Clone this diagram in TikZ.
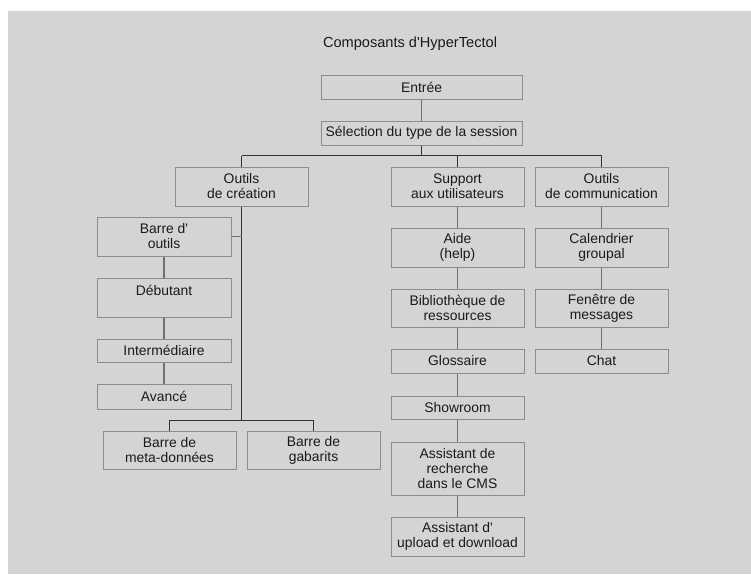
\documentclass[tikz,border=0pt]{standalone}
\usepackage{fontspec}
\setmainfont{Liberation Sans}
\definecolor{panel}{HTML}{D4D4D4}
\definecolor{boxline}{HTML}{8C8C8C}
\definecolor{darkline}{HTML}{333333}
\definecolor{colline}{HTML}{707070}
\definecolor{txt}{HTML}{1A1A1A}
\newcommand{\apos}{\textquotesingle}
\begin{document}
\begin{tikzpicture}[x=1pt,y=1pt,
  box/.style={draw=boxline, line width=1pt, inner sep=0pt, align=center,
    minimum width=133pt, text=txt, font=\fontsize{13.9}{15}\selectfont},
  mainline/.style={draw=darkline, line width=1pt},
  colconn/.style={draw=colline, line width=1.5pt}]
\useasboundingbox (0,0) rectangle (751,-574);
\fill[white] (0,0) rectangle (751,-574);
\fill[panel] (8,-11) rectangle (751,-574);

\node[text=txt, font=\fontsize{14.6}{16}\selectfont] (title) at (410,-44) {Composants d\apos HyperTectol};

\node[box, minimum width=201pt, minimum height=24pt] (entree) at (421.5,-87) {Entrée};
\node[box, minimum width=201pt, minimum height=24pt] (selection) at (421.5,-133) {Sélection du type de la session};

\node[box, minimum height=39pt] (creation) at (241.5,-186.5) {Outils\\de création};
\node[box, minimum height=39pt] (support) at (457.5,-186.5) {Support\\aux utilisateurs};
\node[box, minimum height=39pt] (comm) at (601.5,-186.5) {Outils\\de communication};

\node[box, minimum width=134pt, minimum height=39pt] (outils) at (164,-236.5) {Barre d\apos\\outils};
\node[box, minimum width=134pt, minimum height=39pt] (debutant) at (164,-297.5) {Débutant\\\mbox{}};
\node[box, minimum width=134pt, minimum height=23pt] (inter) at (164,-350.5) {Intermédiaire};
\node[box, minimum width=134pt, minimum height=25pt] (avance) at (164,-396.5) {Avancé};

\node[box, minimum height=38pt] (meta) at (169.5,-450) {Barre de\\meta-données};
\node[box, minimum height=38pt] (gabarits) at (313.5,-450) {Barre de\\gabarits};

\node[box, minimum height=39pt] (aide) at (457.5,-247.5) {Aide\\(help)};
\node[box, minimum height=38pt] (biblio) at (457.5,-308) {Bibliothèque de\\ressources};
\node[box, minimum height=24pt] (glossaire) at (457.5,-361) {Glossaire};
\node[box, minimum height=23pt] (showroom) at (457.5,-407.5) {Showroom};
\node[box, minimum height=53pt] (recherche) at (457.5,-468.5) {Assistant de\\recherche\\dans le CMS};
\node[box, minimum height=39pt] (upload) at (457.5,-536.5) {Assistant d\apos\\upload et download};

\node[box, minimum height=39pt] (calendrier) at (601.5,-247.5) {Calendrier\\groupal};
\node[box, minimum height=38pt] (fenetre) at (601.5,-308) {Fenêtre de\\messages};
\node[box, minimum height=24pt] (chat) at (601.5,-361) {Chat};

% junction coordinates
\coordinate (barL) at (241.5,-155.7);
\coordinate (barR) at (601.5,-155.7);
\coordinate (b2L) at (169.5,-420);
\coordinate (b2R) at (313.5,-420);
\coordinate (b2M) at (241.5,-420);

% top connectors
\draw[colconn] (entree.south) -- (selection.north);
\draw[mainline] (selection.south) -- (selection.south |- barL);
\draw[mainline] (barL) -- (barR);
\draw[mainline] (barL) -- (creation.north);
\draw[mainline] (support.north |- barL) -- (support.north);
\draw[mainline] (barR) -- (comm.north);

% creation branch
\draw[mainline] (creation.south) -- (b2M);
\draw[mainline] (b2L) -- (b2R);
\draw[mainline] (b2L) -- (meta.north);
\draw[mainline] (b2R) -- (gabarits.north);
\draw[colconn] (outils.east) -- (outils.east -| creation.south);
\draw[colconn] (outils.south) -- (debutant.north);
\draw[colconn] (debutant.south) -- (inter.north);
\draw[colconn] (inter.south) -- (avance.north);

% support column
\draw[colconn] (support.south) -- (aide.north);
\draw[colconn] (aide.south) -- (biblio.north);
\draw[colconn] (biblio.south) -- (glossaire.north);
\draw[colconn] (glossaire.south) -- (showroom.north);
\draw[colconn] (showroom.south) -- (recherche.north);
\draw[colconn] (recherche.south) -- (upload.north);

% communication column
\draw[colconn] (comm.south) -- (calendrier.north);
\draw[colconn] (calendrier.south) -- (fenetre.north);
\draw[colconn] (fenetre.south) -- (chat.north);
\end{tikzpicture}
\end{document}
